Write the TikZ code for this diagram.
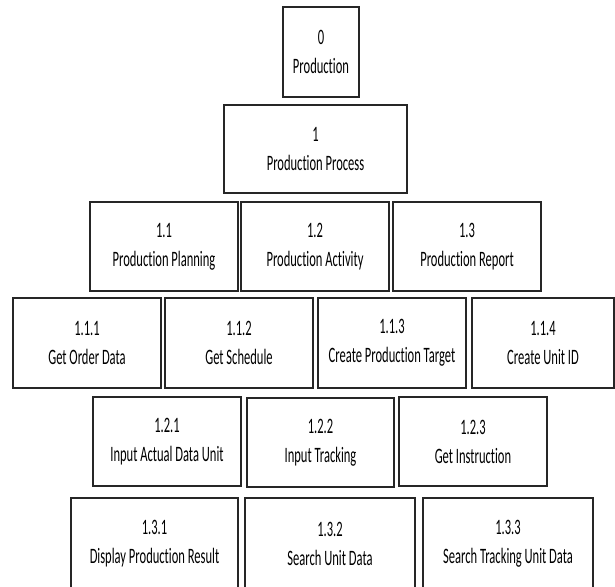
\documentclass[tikz,border=0pt]{standalone}
\usepackage{fontspec}
\setmainfont{Carlito}[FakeStretch=0.57, Ligatures=NoCommon]
\begin{document}
\begin{tikzpicture}[x=1pt,y=-1pt,
  box/.style={draw=black!85, line width=1.3pt, fill=white, align=center,
    inner sep=0pt, outer sep=0pt,
    font=\fontsize{22}{29}\selectfont},
]
\useasboundingbox (0,0) rectangle (615,586);
\clip (0,0) rectangle (615,586);
\fill[white] (0,0) rectangle (615,586);

% level 0 and 1
\node[box, minimum width=76pt, minimum height=90pt]  (p0)   at (321,52)    {0\\Production};
\node[box, minimum width=183pt, minimum height=88pt] (p1)   at (315.5,149) {1\\Production Process};

% level 1.x
\node[box, minimum width=148pt, minimum height=89pt] (p11)  at (164,246.5) {1.1\\Production Planning};
\node[box, minimum width=148pt, minimum height=89pt] (p12)  at (315,246.5) {1.2\\Production Activity};
\node[box, minimum width=148pt, minimum height=89pt] (p13)  at (467,246.5) {1.3\\Production Report};

% level 1.1.x
\node[box, minimum width=148pt, minimum height=90pt] (p111) at (87,343)    {1.1.1\\Get Order Data};
\node[box, minimum width=148pt, minimum height=90pt] (p112) at (239,343)   {1.1.2\\Get Schedule};
\node[box, minimum width=148pt, minimum height=90pt] (p113) at (392,343)   {1.1.3\\Create Production Target};
\node[box, minimum width=142pt, minimum height=90pt] (p114) at (543,343)   {1.1.4\\Create Unit ID};

% level 1.2.x
\node[box, minimum width=148pt, minimum height=89pt] (p121) at (167,441.5) {1.2.1\\Input Actual Data Unit};
\node[box, minimum width=147pt, minimum height=89pt] (p122) at (320.5,442.5) {1.2.2\\Input Tracking};
\node[box, minimum width=148pt, minimum height=89pt] (p123) at (473,441.5) {1.2.3\\Get Instruction};

% level 1.3.x
\node[box, minimum width=167pt, minimum height=92pt] (p131) at (154.5,544) {1.3.1\\Display Production Result};
\node[box, minimum width=170pt, minimum height=92pt] (p132) at (330,544)   {1.3.2\\Search Unit Data};
\node[box, minimum width=170pt, minimum height=92pt] (p133) at (508,544)   {1.3.3\\Search Tracking Unit Data};
\end{tikzpicture}
\end{document}
